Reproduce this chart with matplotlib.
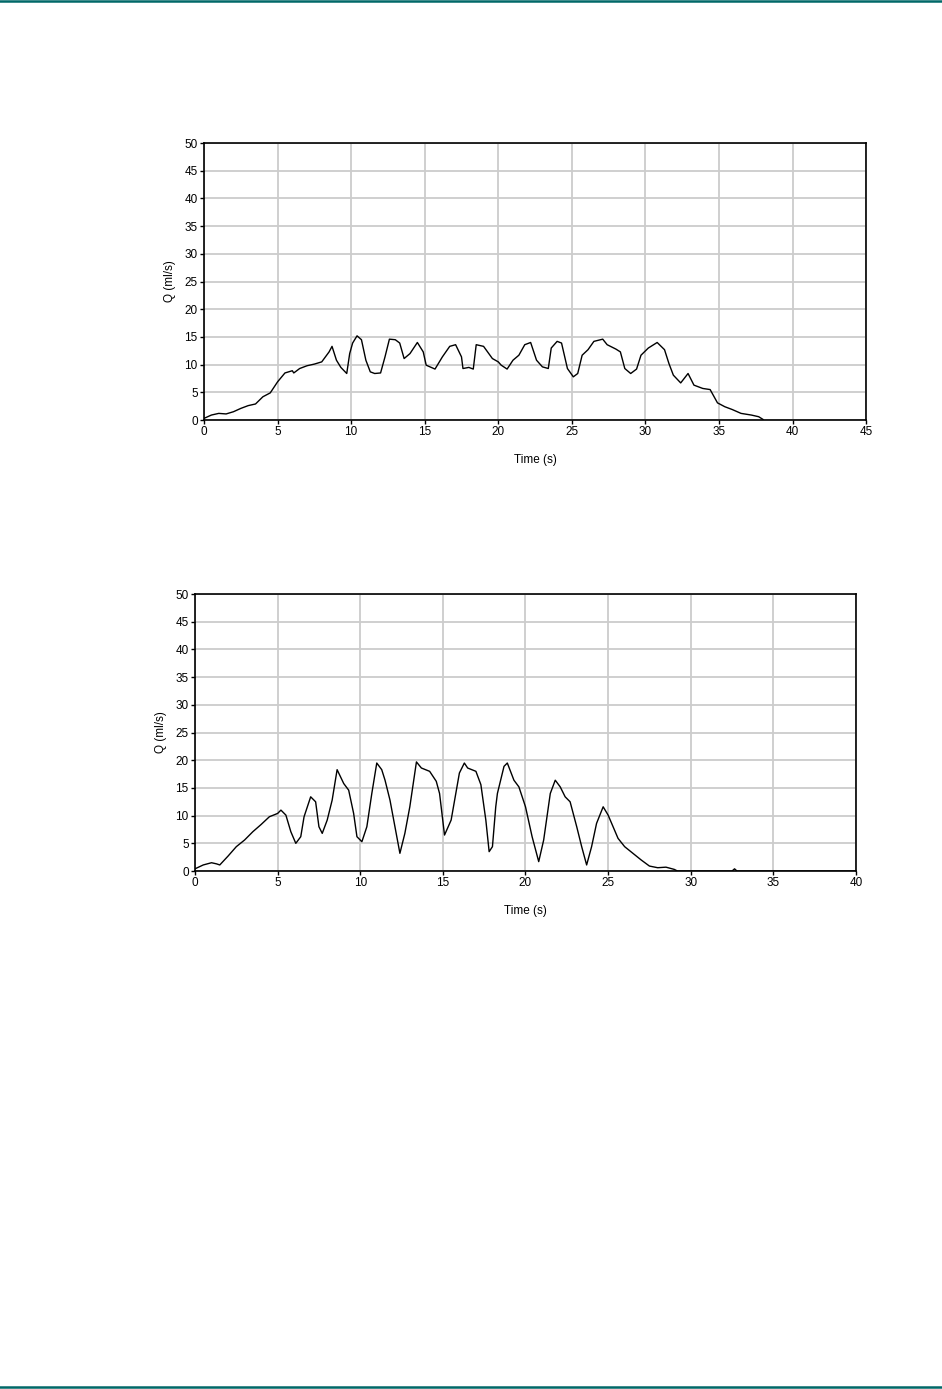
#flow curves (Q vs time) for two voids, drawn like the original report page
import matplotlib
matplotlib.use('Agg')
import matplotlib.pyplot as plt
import matplotlib.lines as mlines

#first trace: time (s) and flow (ml/s)
t1 = [0, 0.5, 1, 1.5, 2, 2.5, 3, 3.5, 4, 4.5, 5, 5.5, 6, 6.1, 6.5, 7, 7.5, 8,
      8.5, 8.7, 9, 9.3, 9.7, 9.9, 10.1, 10.4, 10.7, 11, 11.3, 11.6, 12, 12.3,
      12.6, 13, 13.3, 13.6, 14, 14.5, 14.9, 15.1, 15.7, 16.2, 16.7, 17.1, 17.5,
      17.6, 18.0, 18.3, 18.5, 19.0, 19.6, 20, 20.2, 20.6, 21.0, 21.4, 21.8,
      22.2, 22.6, 23.0, 23.4, 23.6, 24.0, 24.3, 24.7, 25.1, 25.4, 25.7, 26.1,
      26.5, 27.1, 27.4, 28, 28.3, 28.6, 29, 29.4, 29.7, 30.2, 30.8, 31.3, 31.6,
      31.9, 32.4, 32.9, 33.3, 33.9, 34.4, 34.9, 35.4, 35.9, 36.5, 37.2, 37.7, 38]
q1 = [0.3, 0.9, 1.2, 1.1, 1.5, 2.1, 2.6, 2.9, 4.2, 4.9, 6.9, 8.5, 8.9, 8.5, 9.3,
      9.8, 10.1, 10.5, 12.3, 13.3, 10.8, 9.5, 8.4, 12.0, 13.9, 15.2, 14.5, 10.8,
      8.7, 8.4, 8.5, 11.4, 14.6, 14.5, 13.9, 11.1, 12.0, 14.0, 12.3, 9.9, 9.2,
      11.4, 13.3, 13.6, 11.4, 9.3, 9.5, 9.2, 13.6, 13.3, 11.1, 10.5, 9.9, 9.2,
      10.8, 11.7, 13.6, 14.0, 10.8, 9.6, 9.3, 13.0, 14.2, 13.9, 9.3, 7.8, 8.4,
      11.7, 12.7, 14.2, 14.6, 13.6, 12.8, 12.3, 9.3, 8.4, 9.2, 11.7, 13.0, 14.0,
      12.7, 10.2, 8.1, 6.7, 8.4, 6.3, 5.7, 5.5, 3.1, 2.4, 1.9, 1.2, 0.9, 0.6, 0.1]

#second trace
t2 = [0, 0.5, 1, 1.3, 1.5, 2, 2.5, 3, 3.5, 4, 4.5, 5, 5.2, 5.5, 5.8, 6.1, 6.4,
      6.6, 7.0, 7.3, 7.5, 7.7, 8.0, 8.3, 8.6, 9, 9.3, 9.6, 9.8, 10.1, 10.4,
      10.7, 11, 11.3, 11.5, 11.8, 12.1, 12.4, 12.7, 13.0, 13.4, 13.7, 14.2,
      14.6, 14.8, 15.1, 15.5, 16.0, 16.3, 16.5, 17, 17.3, 17.6, 17.8, 18.0,
      18.2, 18.3, 18.7, 18.9, 19.3, 19.6, 20, 20.4, 20.8, 21.1, 21.5, 21.8,
      22.1, 22.4, 22.7, 23.1, 23.4, 23.7, 24, 24.3, 24.7, 25.0, 25.3, 25.6,
      26, 26.5, 27, 27.5, 28, 28.5, 29, 29.2, 32.5, 32.65, 32.8, 40]
q2 = [0.4, 1.1, 1.5, 1.3, 1.1, 2.7, 4.4, 5.6, 7.1, 8.4, 9.8, 10.4, 11.0, 10.1,
      7.1, 5.0, 6.2, 9.8, 13.4, 12.5, 8.0, 6.8, 9.2, 12.8, 18.3, 15.8, 14.6,
      10.4, 6.2, 5.3, 8.0, 14.0, 19.5, 18.3, 16.4, 12.8, 8.0, 3.2, 6.8, 11.6,
      19.7, 18.6, 18.0, 16.2, 14.0, 6.5, 9.2, 17.7, 19.5, 18.6, 18.0, 15.6, 9.2,
      3.5, 4.4, 11.6, 14.0, 18.9, 19.5, 16.4, 15.2, 11.6, 6.2, 1.7, 5.6, 14.0,
      16.4, 15.2, 13.4, 12.5, 8.0, 4.4, 1.1, 4.4, 8.6, 11.6, 10.1, 8.0, 5.9,
      4.4, 3.2, 2.0, 0.9, 0.6, 0.7, 0.3, 0, 0, 0.4, 0, 0]

plt.rcParams['font.family'] = ['Liberation Sans', 'DejaVu Sans']
fig = plt.figure(figsize=(9.42, 13.89), dpi=100)

#teal rules at top and bottom of the page
teal = '#006868'
fig.add_artist(mlines.Line2D([0, 1], [0.9995, 0.9995], color=teal, lw=1.8))
fig.add_artist(mlines.Line2D([0, 1], [0.0012, 0.0012], color=teal, lw=1.8))

def panel(rect, t, q, xmax):
    ax = fig.add_axes(rect)
    ax.plot(t, q, color='black', lw=1.0)
    ax.set_xlim(0, xmax)
    ax.set_ylim(0, 50)
    ax.set_xticks(range(0, xmax + 1, 5))
    ax.set_yticks(range(0, 51, 5))
    ax.grid(True, color='#cccccc', lw=1.3)
    ax.set_axisbelow(True)
    for s in ax.spines.values():
        s.set_linewidth(1.2)
    ax.tick_params(direction='out', length=3, width=1, labelsize=8.5, pad=1.5)
    ax.set_xlabel('Time (s)', fontsize=8.5, labelpad=11)
    ax.set_ylabel('Q (ml/s)', fontsize=8.5, labelpad=6)
    return ax

panel([0.2166, 0.6976, 0.7028, 0.1994], t1, q1, 45)
panel([0.2070, 0.3729, 0.7017, 0.1994], t2, q2, 40)

plt.savefig('out.png', dpi=100)
